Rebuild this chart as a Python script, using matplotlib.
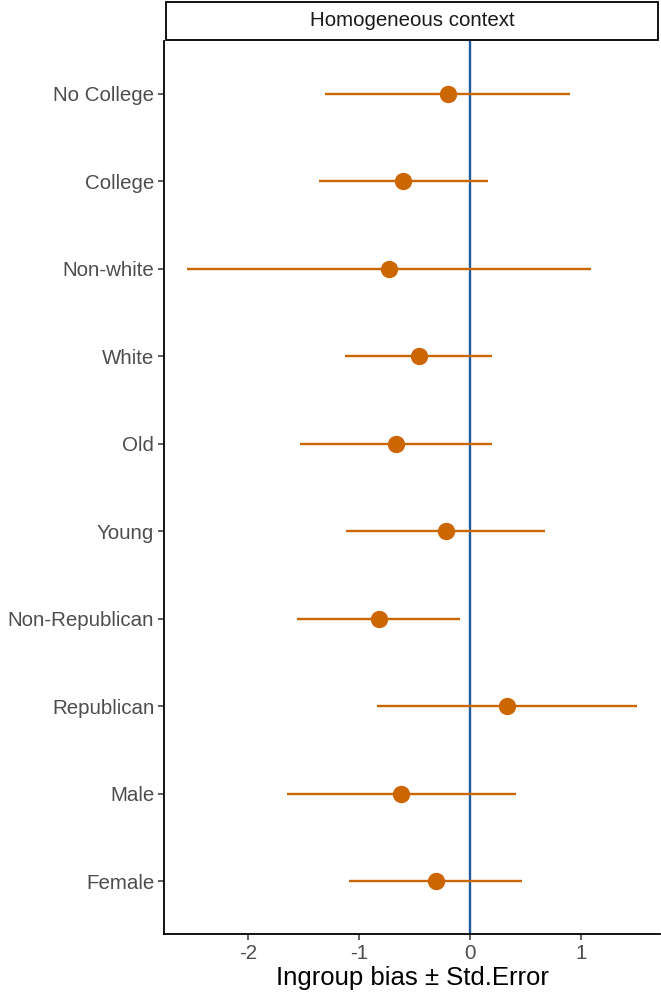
import matplotlib.pyplot as plt
from matplotlib.patches import Rectangle

plt.rcParams['font.family'] = ['Liberation Sans', 'DejaVu Sans']

# groups from top to bottom
groups = ["No College", "College", "Non-white", "White", "Old", "Young",
          "Non-Republican", "Republican", "Male", "Female"]
estimate = [-0.205, -0.603, -0.73, -0.465, -0.67, -0.22, -0.825, 0.327, -0.62, -0.31]
lower = [-1.31, -1.36, -2.55, -1.13, -1.53, -1.12, -1.56, -0.84, -1.65, -1.095]
upper = [0.90, 0.156, 1.09, 0.20, 0.195, 0.675, -0.09, 1.50, 0.414, 0.47]
xticks = [-2, -1, 0, 1]

orange = '#CC6600'
blue = '#1F5A9A'

fig = plt.figure(figsize=(6.61, 9.97), dpi=100)
ax = fig.add_axes([164/661, 1 - 934/997, (660-164)/661, (934-41)/997])

n = len(groups)
ypos = [n - i for i in range(n)]

ax.axvline(0, color=blue, lw=1.7, zorder=1)
ax.hlines(ypos, lower, upper, color=orange, lw=1.7, zorder=2)
ax.plot(estimate, ypos, 'o', color=orange, markersize=11.5, zorder=3)

ax.set_xlim(-2.76, 1.71)
ax.set_ylim(0.4, n + 0.6)
ax.set_yticks(ypos)
ax.set_yticklabels(groups)
ax.set_xticks(xticks)
ax.set_xticklabels([str(t) for t in xticks])
ax.tick_params(axis='both', colors='#333333', labelcolor='#4D4D4D',
               labelsize=14.8, length=4, width=1.1)
ax.tick_params(axis='y', pad=3)
ax.tick_params(axis='x', pad=3)

for s in ['top', 'right']:
    ax.spines[s].set_visible(False)
for s in ['left', 'bottom']:
    ax.spines[s].set_linewidth(1.3)
    ax.spines[s].set_color('black')

ax.set_xlabel("Ingroup bias \u00b1 Std.Error", fontsize=18.5, color='black', labelpad=2)

# facet strip
strip = Rectangle((166/661, 1 - 40/997), (658-166)/661, 38/997,
                  transform=fig.transFigure, facecolor='white',
                  edgecolor='black', lw=1.3)
fig.patches.append(strip)
fig.text((166+658)/2/661, 1 - 21/997, "Homogeneous context", ha='center',
         va='center', fontsize=14.8, color='#1A1A1A')

fig.savefig('out.png', dpi=100)
